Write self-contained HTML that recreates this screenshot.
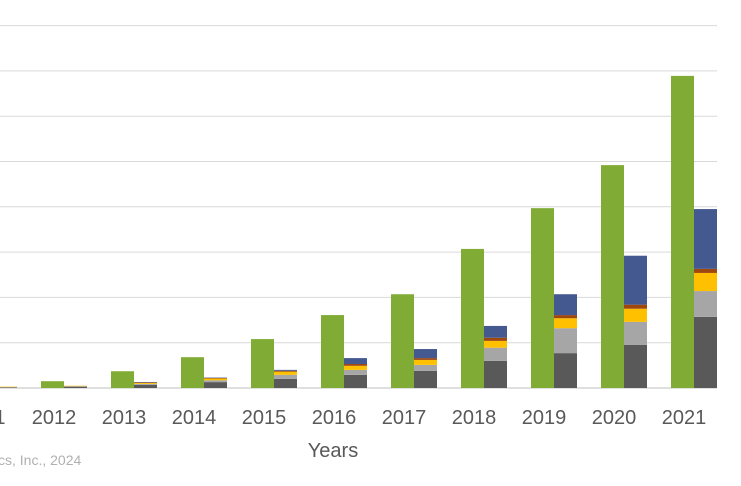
<!DOCTYPE html>
<html><head><meta charset="utf-8"><style>
html,body{margin:0;padding:0;background:#fff;width:741px;height:486px;overflow:hidden}
svg{display:block;font-family:"Liberation Sans",sans-serif}
</style></head><body>
<svg id="chart" width="741" height="486">
<g id="grid"></g>
<g id="bars"></g>
<g id="labels"></g>
<text x="333" y="457" text-anchor="middle" font-size="20" fill="#595959">Years</text>
<text x="-2" y="465" font-size="14" fill="#b0b0b0">cs, Inc., 2024</text>
</svg>
<script>
const years = [2011,2012,2013,2014,2015,2016,2017,2018,2019,2020,2021];
const greenVals = [0.02,0.15,0.37,0.68,1.08,1.61,2.07,3.07,3.97,4.92,6.89];
const darkGray = [0.01,0.03,0.07,0.13,0.20,0.29,0.38,0.60,0.77,0.95,1.57];
const lightGray = [0.01,0.01,0.02,0.04,0.09,0.11,0.13,0.29,0.55,0.51,0.57];
const yellow = [0.01,0.01,0.02,0.04,0.07,0.09,0.11,0.15,0.22,0.29,0.40];
const brown = [0.0,0.0,0.01,0.01,0.02,0.04,0.04,0.07,0.07,0.09,0.09];
const blue = [0.0,0.0,0.01,0.01,0.02,0.13,0.20,0.26,0.46,1.08,1.32];
const gridTicks = [0,1,2,3,4,5,6,7,8];
const NS="http://www.w3.org/2000/svg";
const base=388, unit=45.3, bw=23;
const y=v=>base-v*unit;
const cx=i=>-6+i*70;
const grid=document.getElementById('grid'), bars=document.getElementById('bars'), labels=document.getElementById('labels');
gridTicks.forEach(t=>{
  const l=document.createElementNS(NS,'line');
  l.setAttribute('x1',0);l.setAttribute('x2',717);l.setAttribute('y1',y(t));l.setAttribute('y2',y(t));
  l.setAttribute('stroke',t===0?'#bfbfbf':'#d9d9d9');l.setAttribute('stroke-width',1);
  
  
  grid.appendChild(l);
});
function rect(x,y0,h,fill,name){
  const r=document.createElementNS(NS,'rect');
  r.setAttribute('x',x);r.setAttribute('y',y0);r.setAttribute('width',bw);r.setAttribute('height',Math.max(h,0));r.setAttribute('fill',fill);
  
  
  bars.appendChild(r);
}
const series=[[darkGray,'#595959','dark-gray'],[lightGray,'#a6a6a6','light-gray'],[yellow,'#ffc000','yellow'],[brown,'#9e480e','brown'],[blue,'#44598f','blue']];
years.forEach((yr,i)=>{
  const c=cx(i);
  rect(c-bw,y(greenVals[i]),greenVals[i]*unit,'#80ab35','bar-green-'+yr);
  let acc=0;
  series.forEach(([arr,col,nm])=>{
    rect(c,y(acc+arr[i]),arr[i]*unit,col,'bar-'+nm+'-'+yr);
    acc+=arr[i];
  });
  const t=document.createElementNS(NS,'text');
  t.setAttribute('x',c-10);t.setAttribute('y',424);t.setAttribute('text-anchor','middle');
  t.setAttribute('font-size',20);t.setAttribute('fill','#595959');
  t.textContent=yr;
  
  
  labels.appendChild(t);
});
</script>
</body></html>
